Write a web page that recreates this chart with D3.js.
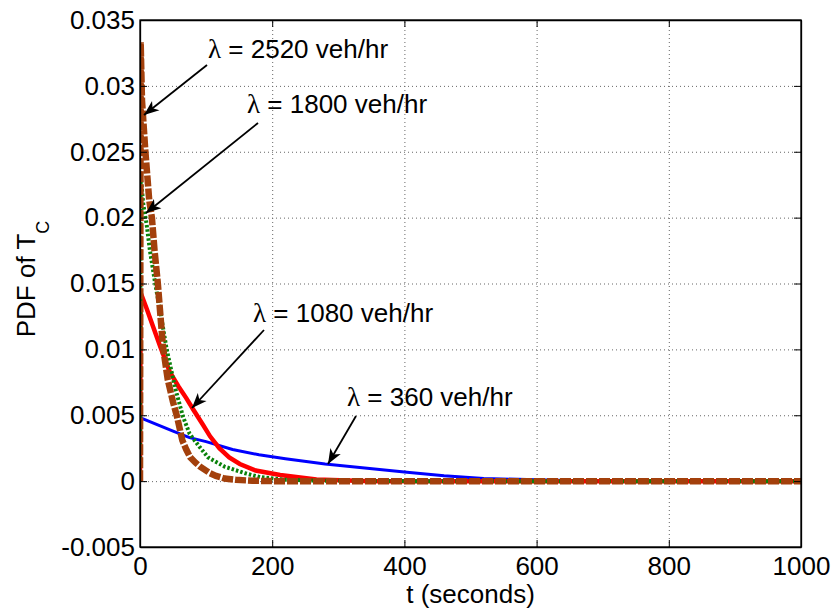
<!DOCTYPE html>
<html>
<head>
<meta charset="utf-8">
<script src="https://cdn.jsdelivr.net/npm/d3@7"></script>
<style>
  body { margin: 0; background: #fff; }
  svg { font-family: "Liberation Sans", Arial, sans-serif; }
  .grid line { stroke: #666; stroke-dasharray: 1,3; }
  .grid path { display: none; }
  .axis path, .axis line { stroke: #000; }
</style>
</head>
<body>
<svg width="836" height="613"></svg>
<script>
// values (t in seconds, PDF)
var xTicks = [0, 200, 400, 600, 800, 1000];
var yTicks = [-0.005, 0, 0.005, 0.01, 0.015, 0.02, 0.025, 0.03, 0.035];

var t360  = [0, 1, 25, 50, 75, 100, 140, 180, 220, 280, 340, 400, 460, 520, 600, 700, 1000];
var v360  = [0, 0.0048, 0.0043, 0.0038, 0.0033, 0.0030, 0.0024, 0.0020, 0.0017, 0.0013, 0.0010, 0.0007, 0.0004, 0.0002, 0.0001, 0, 0];

var t1080 = [0, 1, 10, 20, 30, 45, 58, 70, 81, 95, 106, 120, 135, 151, 175, 212, 267, 350, 1000];
var v1080 = [0, 0.0143, 0.0131, 0.0117, 0.0103, 0.0083, 0.0072, 0.0063, 0.0054, 0.0043, 0.0034, 0.0025, 0.0018, 0.0013, 0.0008, 0.00046, 0.00013, 0, 0];

var t1800 = [0, 1, 5, 10, 15, 23, 33, 40, 53, 65, 75, 90, 103, 128, 159, 182, 220, 280, 400, 1000];
var v1800 = [0, 0.0232, 0.0210, 0.0195, 0.0175, 0.0150, 0.0122, 0.0101, 0.0071, 0.0049, 0.0036, 0.0026, 0.0018, 0.0011, 0.0006, 0.0003, 0.0001, 0.00003, 0, 0];

var t2520 = [0, 1, 3, 8, 14, 18, 22, 27, 31, 35, 42, 50, 56, 64, 70, 76, 84, 91, 100, 106, 115, 128, 145, 170, 200, 1000];
var v2520 = [0, 0.0333, 0.0289, 0.0251, 0.0213, 0.0200, 0.0175, 0.0150, 0.0125, 0.0101, 0.0077, 0.0060, 0.0049, 0.0031, 0.0024, 0.0018, 0.0014, 0.0011, 0.0008, 0.0006, 0.0004, 0.0002, 0.0001, 0.00003, 0, 0];

var labels = ["\u03bb = 2520 veh/hr", "\u03bb = 1800 veh/hr", "\u03bb = 1080 veh/hr", "\u03bb = 360 veh/hr"];

var svg = d3.select("svg"),
    margin = {left: 140, top: 20, right: 35, bottom: 66},
    width = 836 - margin.left - margin.right,
    height = 613 - margin.top - margin.bottom;

var x = d3.scaleLinear().domain([0, 1000]).range([0, width]);
var y = d3.scaleLinear().domain([-0.005, 0.035]).range([height, 0]);

var g = svg.append("g").attr("transform", "translate(" + margin.left + "," + margin.top + ")");

// dotted grid
g.append("g").attr("class", "grid")
  .attr("transform", "translate(0," + height + ")")
  .call(d3.axisBottom(x).tickValues(xTicks.slice(1, -1)).tickSize(-height).tickFormat(""));
g.append("g").attr("class", "grid")
  .call(d3.axisLeft(y).tickValues(yTicks.slice(1, -1)).tickSize(-width).tickFormat(""));

svg.append("clipPath").attr("id", "plotclip")
  .append("rect").attr("width", width).attr("height", height);

var line = d3.line()
  .x(function(d) { return x(d[0]); })
  .y(function(d) { return y(d[1]); });

function pairs(ts, vs) { return ts.map(function(t, i) { return [t, vs[i]]; }); }

var series = [
  {data: pairs(t360, v360),   color: "#0000ff", w: 3,   dash: null},
  {data: pairs(t1080, v1080), color: "#ff0000", w: 4.5, dash: null},
  {data: pairs(t1800, v1800), color: "#0a820a", w: 4,   dash: "2.5,2"},
  {data: pairs(t2520, v2520), color: "#a3400c", w: 6.5, dash: "11,2"}
];

var plot = g.append("g").attr("clip-path", "url(#plotclip)");
plot.selectAll(".curve")
  .data(series)
  .enter().append("path")
    .attr("class", "curve")
    .attr("d", function(d) { return line(d.data); })
    .attr("fill", "none")
    .attr("stroke", function(d) { return d.color; })
    .attr("stroke-width", function(d) { return d.w; })
    .attr("stroke-dasharray", function(d) { return d.dash; });

// axes, MATLAB style: inward ticks on all four sides
var fmtY = function(d) { return d === 0 ? "0" : String(+d.toFixed(3)); };

var xAxis = g.append("g").attr("class", "axis")
  .attr("transform", "translate(0," + height + ")")
  .call(d3.axisBottom(x).tickValues(xTicks).tickSizeInner(-7).tickSizeOuter(0).tickFormat(d3.format("d")));
var yAxis = g.append("g").attr("class", "axis")
  .call(d3.axisLeft(y).tickValues(yTicks).tickSizeInner(-7).tickSizeOuter(0).tickPadding(5).tickFormat(fmtY));
g.append("g").attr("class", "axis")
  .call(d3.axisTop(x).tickValues(xTicks).tickSizeInner(-7).tickSizeOuter(0).tickFormat(""));
g.append("g").attr("class", "axis")
  .attr("transform", "translate(" + width + ",0)")
  .call(d3.axisRight(y).tickValues(yTicks).tickSizeInner(-7).tickSizeOuter(0).tickFormat(""));

g.selectAll(".axis text").attr("font-size", 26).attr("font-family", "Liberation Sans, Arial, sans-serif").attr("fill", "#000");
xAxis.selectAll("text").attr("y", 28).attr("dy", 0);
g.selectAll(".axis path").attr("stroke-width", 1.3);

g.append("rect").attr("width", width).attr("height", height)
  .attr("fill", "none").attr("stroke", "#000").attr("stroke-width", 1.3);

// axis titles
svg.append("text")
  .attr("x", margin.left + width / 2).attr("y", 603)
  .attr("text-anchor", "middle").attr("font-size", 26)
  .text("t (seconds)");

var yl = svg.append("text")
  .attr("transform", "translate(35,279) rotate(-90)")
  .attr("text-anchor", "middle").attr("font-size", 26);
yl.append("tspan").text("PDF of T");
yl.append("tspan").attr("font-size", 18).attr("dy", 14).text("C");

// annotations
var defs = svg.append("defs");
defs.append("marker").attr("id", "head")
  .attr("viewBox", "-16 -8 18 16").attr("refX", 0).attr("refY", 0)
  .attr("markerUnits", "userSpaceOnUse").attr("markerWidth", 18).attr("markerHeight", 16)
  .attr("orient", "auto")
  .append("path").attr("d", "M0,0 L-15,-6 L-11,0 L-15,6 Z").attr("fill", "#000");

var notes = [
  {text: labels[0], tx: 208, ty: 58,  x1: 207, y1: 65,  x2: 144, y2: 115},
  {text: labels[1], tx: 247, ty: 113, x1: 258, y1: 123, x2: 146, y2: 213},
  {text: labels[2], tx: 253, ty: 322, x1: 264, y1: 330, x2: 192, y2: 408},
  {text: labels[3], tx: 347, ty: 406, x1: 356, y1: 416, x2: 328, y2: 464}
];

svg.selectAll(".arrow")
  .data(notes)
  .enter().append("line")
    .attr("class", "arrow")
    .attr("x1", function(d) { return d.x1; }).attr("y1", function(d) { return d.y1; })
    .attr("x2", function(d) { return d.x2; }).attr("y2", function(d) { return d.y2; })
    .attr("stroke", "#000").attr("stroke-width", 1.8)
    .attr("marker-end", "url(#head)");

var nt = svg.selectAll(".note")
  .data(notes)
  .enter().append("text")
    .attr("class", "note")
    .attr("x", function(d) { return d.tx; }).attr("y", function(d) { return d.ty; })
    .attr("font-size", 26);
nt.append("tspan").attr("font-family", "Liberation Serif, serif").attr("font-size", 27)
  .text(function(d) { return d.text.slice(0, 1); });
nt.append("tspan").text(function(d) { return d.text.slice(1); });
</script>
</body>
</html>
